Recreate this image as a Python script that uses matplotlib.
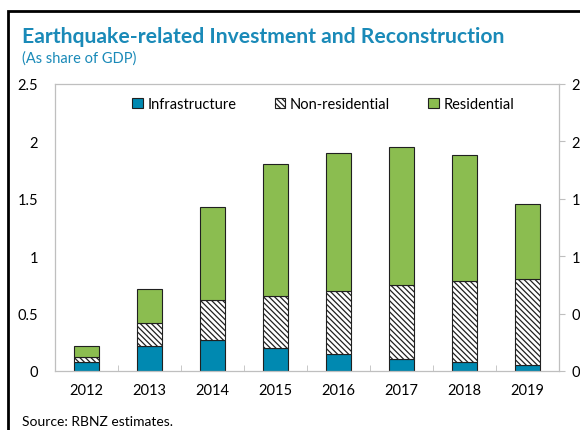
import numpy as np
import matplotlib
matplotlib.use("Agg")
import matplotlib.pyplot as plt
from matplotlib.patches import Rectangle

# ----------------------------------------------------
# Data (share of GDP)
# ----------------------------------------------------
years = ["2012", "2013", "2014", "2015", "2016", "2017", "2018", "2019"]
infrastructure = [0.08, 0.22, 0.27, 0.20, 0.15, 0.10, 0.08, 0.055]
non_residential = [0.04, 0.20, 0.35, 0.45, 0.55, 0.65, 0.70, 0.75]
residential = [0.10, 0.29, 0.81, 1.15, 1.20, 1.20, 1.10, 0.65]
y_ticks = [0, 0.5, 1, 1.5, 2, 2.5]
y_labels = ["0", "0.5", "1", "1.5", "2", "2.5"]

plt.rcParams["font.family"] = ["Lato", "DejaVu Sans"]
plt.rcParams["hatch.color"] = "#404040"
plt.rcParams["hatch.linewidth"] = 0.9

teal = "#0089B1"
green = "#8BBD50"
title_col = "#1A8AB8"

fig = plt.figure(figsize=(5.8, 4.31), dpi=100)
ax = fig.add_axes([0.0948, 0.137, 0.869, 0.666])

x = np.arange(len(years))
w = 0.41
b1 = np.array(infrastructure)
b2 = b1 + np.array(non_residential)

ax.bar(x, infrastructure, w, color=teal, edgecolor="#202020", linewidth=0.8,
       label="Infrastructure")
ax.bar(x, non_residential, w, bottom=b1, color="white", edgecolor="#202020",
       hatch="\\" * 6, linewidth=0.8, label="Non-residential")
ax.bar(x, residential, w, bottom=b2, color=green, edgecolor="#202020",
       linewidth=0.8, label="Residential")

ax.set_xlim(-0.5, len(years) - 0.5)
ax.set_ylim(0, 2.5)
ax.set_yticks(y_ticks)
ax.set_yticklabels(y_labels)
ax.set_xticks(x)
ax.set_xticklabels(years)
ax.set_xticks(x[:-1] + 0.5, minor=True)
ax.tick_params(axis="x", which="major", length=0, pad=9, labelsize=10.5)
ax.tick_params(axis="x", which="minor", length=4, direction="in", color="#BFBFBF")
ax.tick_params(axis="y", length=0, pad=12, labelsize=10.5)
for s in ax.spines.values():
    s.set_color("#BFBFBF")
    s.set_linewidth(0.9)

ax2 = ax.twinx()
ax2.set_ylim(0, 2.5)
ax2.set_yticks(y_ticks)
ax2.set_yticklabels(y_labels)
ax2.tick_params(axis="y", length=4, color="#BFBFBF", pad=5, labelsize=10.5)
for s in ax2.spines.values():
    s.set_visible(False)

leg = ax.legend(loc="upper center", ncol=3, frameon=False, fontsize=10.5,
                handlelength=0.75, handleheight=0.75, handletextpad=0.3,
                columnspacing=2.6, bbox_to_anchor=(0.532, 1.0))

# titles and source
fig.text(22 / 580, 1 - 37 / 431, "Earthquake-related Investment and Reconstruction",
         fontsize=15.2, fontweight="bold", color=title_col, va="center", ha="left")
fig.text(22 / 580, 1 - 59 / 431, "(As share of GDP)", fontsize=10.5,
         color=title_col, va="center", ha="left")
fig.text(22 / 580, 1 - 422 / 431, "Source: RBNZ estimates.", fontsize=10,
         color="black", va="center", ha="left")

# outer frame, clipped at right and bottom like the reference
fig.patches.append(Rectangle((8 / 580, -0.1), 1.2, 1 - 12 / 431 + 0.1,
                             transform=fig.transFigure, fill=False,
                             edgecolor="black", linewidth=2.0))

fig.savefig("out.png", dpi=100)
